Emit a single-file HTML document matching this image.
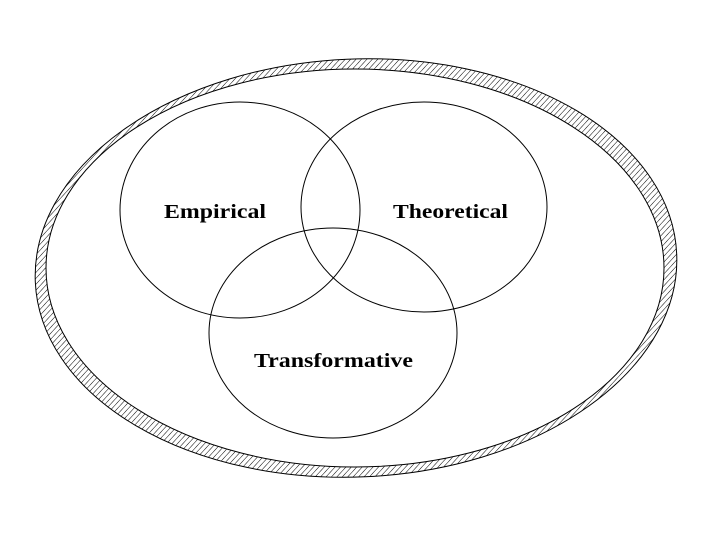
<!DOCTYPE html><html><head><style>body{margin:0;background:#fff}</style></head><body>
<svg width="720" height="540" xmlns="http://www.w3.org/2000/svg">
<defs><pattern id="h" width="4" height="4" patternUnits="userSpaceOnUse" patternTransform="rotate(45)"><rect width="4" height="4" fill="#fff"/><line x1="0" y1="0" x2="0" y2="4" stroke="#000" stroke-width="1"/></pattern></defs>
<g transform="rotate(-2.5 356 268)">
<ellipse cx="356" cy="268" rx="321" ry="209" fill="url(#h)" stroke="#000" stroke-width="1"/>
</g>
<ellipse cx="355" cy="268" rx="309" ry="199" fill="#fff" stroke="#000" stroke-width="1"/>
<g fill="none" stroke="#000" stroke-width="1">
<ellipse cx="240" cy="210" rx="120" ry="108"/>
<ellipse cx="424" cy="207" rx="123" ry="105"/>
<ellipse cx="333" cy="333" rx="124" ry="105"/>
</g>
<g font-family="Liberation Serif, serif" font-weight="bold" font-size="20" fill="#000">
<text x="164" y="218" textLength="102" lengthAdjust="spacingAndGlyphs">Empirical</text>
<text x="393" y="218" textLength="115" lengthAdjust="spacingAndGlyphs">Theoretical</text>
<text x="254" y="367" textLength="159" lengthAdjust="spacingAndGlyphs">Transformative</text>
</g>
</svg></body></html>
